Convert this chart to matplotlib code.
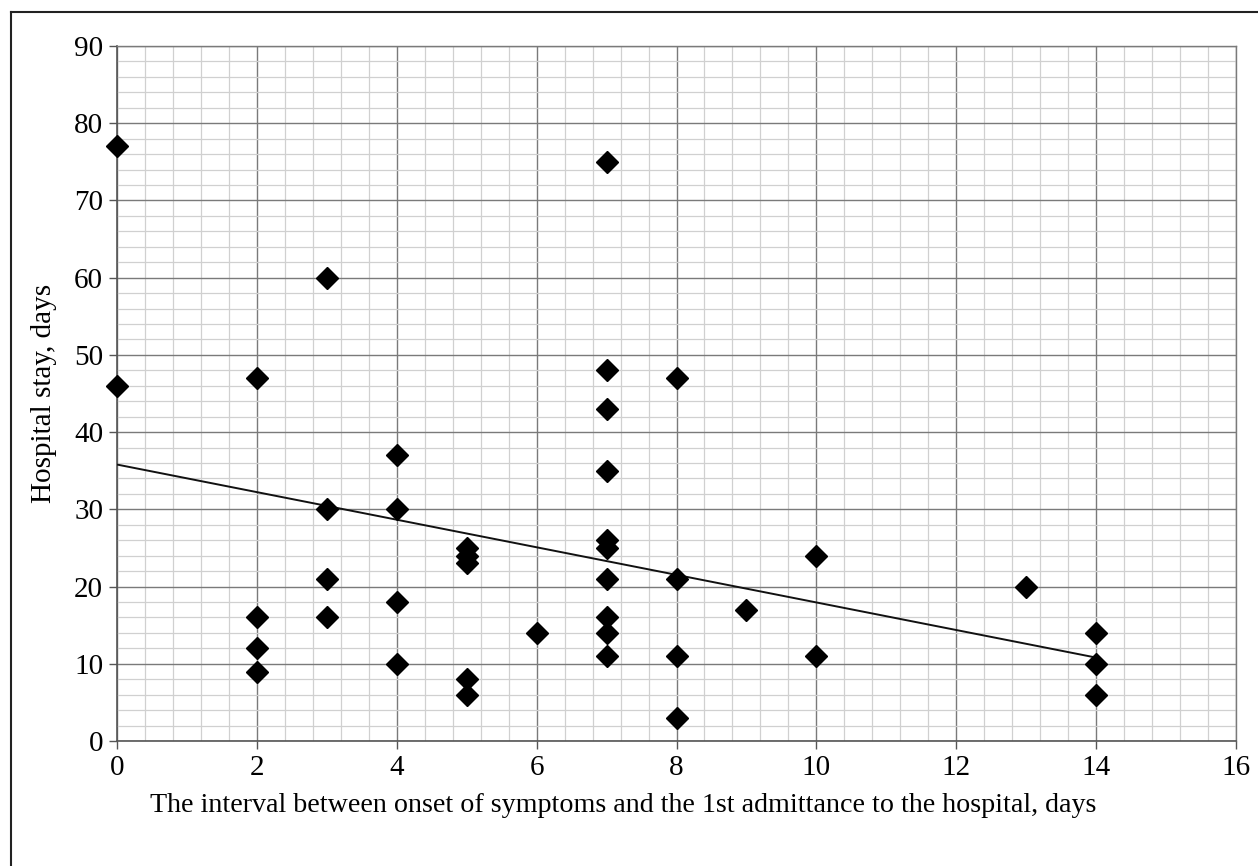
import matplotlib
matplotlib.use("Agg")
import matplotlib.pyplot as plt
from matplotlib.lines import Line2D
from matplotlib.ticker import MultipleLocator

# Data
interval_days = [0, 0,
                 2, 2, 2, 2,
                 3, 3, 3, 3,
                 4, 4, 4, 4,
                 5, 5, 5, 5, 5,
                 6,
                 7, 7, 7, 7, 7, 7, 7, 7, 7, 7,
                 8, 8, 8, 8,
                 9,
                 10, 10,
                 13,
                 14, 14, 14]
stay_days = [77, 46,
             47, 16, 12, 9,
             60, 30, 21, 16,
             37, 30, 18, 10,
             25, 24, 23, 8, 6,
             14,
             75, 48, 43, 35, 26, 25, 21, 16, 14, 11,
             47, 21, 11, 3,
             17,
             24, 11,
             20,
             14, 10, 6]
trend_x = [0, 14]
trend_y = [35.8, 10.8]

x_ticks = [0, 2, 4, 6, 8, 10, 12, 14, 16]
y_ticks = [0, 10, 20, 30, 40, 50, 60, 70, 80, 90]

plt.rcParams['font.family'] = ['Liberation Serif', 'DejaVu Serif']

W, H = 1258, 866
fig = plt.figure(figsize=(W / 100, H / 100), dpi=100)
ax = fig.add_axes([117/W, 1 - 741/H, (1236-117)/W, (741-46)/H])

ax.set_xlim(0, 16)
ax.set_ylim(0, 90)
ax.set_xticks(x_ticks)
ax.set_yticks(y_ticks)
ax.xaxis.set_minor_locator(MultipleLocator(0.4))
ax.yaxis.set_minor_locator(MultipleLocator(2))

ax.grid(which='major', color='#7a7a7a', linewidth=1.0)
ax.grid(which='minor', color='#d0d0d0', linewidth=0.9)
ax.set_axisbelow(True)

for side in ['top', 'right']:
    ax.spines[side].set_color('#7a7a7a')
    ax.spines[side].set_linewidth(1.0)
for side in ['left', 'bottom']:
    ax.spines[side].set_color('#555555')
    ax.spines[side].set_linewidth(1.2)

ax.tick_params(which='major', direction='out', length=6, width=1.0, color='#555555',
               labelsize=21, pad=4)
ax.tick_params(which='minor', length=0)

ax.plot(trend_x, trend_y, color='#111111', linewidth=1.4, zorder=3)
ax.plot(interval_days, stay_days, linestyle='none', marker='D', markersize=11.5,
        color='black', zorder=4, clip_on=False)

fig.text(623/W, 1 - 805/H,
         'The interval between onset of symptoms and the 1st admittance to the hospital, days',
         fontsize=20.2, ha='center', va='center')
ax.set_ylabel('Hospital stay, days', fontsize=21, labelpad=12)

# Partial outer frame (top and left edges)
fig.add_artist(Line2D([11/W, 1], [1 - 12/H, 1 - 12/H], transform=fig.transFigure,
                      color='#222222', linewidth=1.5))
fig.add_artist(Line2D([11/W, 11/W], [0, 1 - 12/H], transform=fig.transFigure,
                      color='#222222', linewidth=1.5))

fig.savefig('out.png', dpi=100)
